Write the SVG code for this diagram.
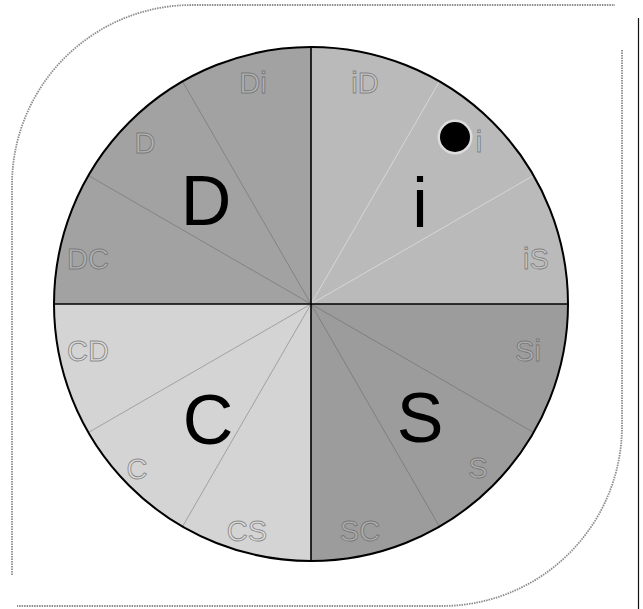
<svg xmlns="http://www.w3.org/2000/svg" width="643" height="609" viewBox="0 0 643 609">
  <style>
    .frame { fill: none; stroke: #8c8c8c; stroke-width: 1.8; stroke-dasharray: 1.5 1; }
    .big { font-family: "Liberation Sans", Arial, sans-serif; font-size: 70px; fill: #000; text-anchor: middle; }
    .lbl { font-family: "Liberation Sans", Arial, sans-serif; font-size: 29px; fill: #ffffff; fill-opacity: 0.2; stroke: #5e5e5e; stroke-width: 0.9; stroke-opacity: 0.65; text-anchor: middle; }
    .sub { stroke-width: 1; fill: none; }
    .dark { stroke: #555555; stroke-opacity: 0.4; }
    .light { stroke: #eeeeee; stroke-opacity: 0.55; }
  </style>
  <rect width="643" height="609" fill="#ffffff"/>
  <g id="frame">
    <path class="frame" d="M 12 575 V 185 A 180 180 0 0 1 192 5 H 615"/>
    <path class="frame" d="M 622 50 V 426 A 180 180 0 0 1 442 606 H 17"/>
    <line x1="638.5" y1="18" x2="638.5" y2="609" stroke="#111" stroke-width="1.2"/>
  </g>
  <g id="quadrant-D">
    <path d="M 311 304 L 54 304 A 257 257 0 0 1 311 47 Z" fill="#a2a2a2"/>
  </g>
  <g id="quadrant-i">
    <path d="M 311 304 L 311 47 A 257 257 0 0 1 568 304 Z" fill="#bababa"/>
  </g>
  <g id="quadrant-S">
    <path d="M 311 304 L 568 304 A 257 257 0 0 1 311 561 Z" fill="#9c9c9c"/>
  </g>
  <g id="quadrant-C">
    <path d="M 311 304 L 311 561 A 257 257 0 0 1 54 304 Z" fill="#d4d4d4"/>
  </g>
  <g id="connectors">
    <line class="sub dark" x1="311" y1="304" x2="182.5" y2="81.4"/>
    <line class="sub dark" x1="311" y1="304" x2="88.4" y2="175.5"/>
    <line class="sub light" x1="311" y1="304" x2="439.5" y2="81.4"/>
    <line class="sub light" x1="311" y1="304" x2="533.6" y2="175.5"/>
    <line class="sub dark" x1="311" y1="304" x2="533.6" y2="432.5"/>
    <line class="sub dark" x1="311" y1="304" x2="439.5" y2="526.6"/>
    <line class="sub dark" x1="311" y1="304" x2="88.4" y2="432.5" stroke-opacity="0.28"/>
    <line class="sub dark" x1="311" y1="304" x2="182.5" y2="526.6" stroke-opacity="0.28"/>
    <line x1="311" y1="47" x2="311" y2="561" stroke="#000" stroke-width="1.6"/>
    <line x1="54" y1="304" x2="568" y2="304" stroke="#000" stroke-width="1.6"/>
  </g>
  <g id="circle">
    <circle cx="311" cy="304" r="257" fill="none" stroke="#000" stroke-width="2"/>
  </g>
  <g id="labels">
    <text class="lbl" x="253" y="93">Di</text>
    <text class="lbl" x="145" y="153">D</text>
    <text class="lbl" x="88" y="269">DC</text>
    <text class="lbl" x="365" y="93">iD</text>
    <text class="lbl" x="479" y="152">i</text>
    <text class="lbl" x="536" y="269">iS</text>
    <text class="lbl" x="528" y="361">Si</text>
    <text class="lbl" x="478" y="478">S</text>
    <text class="lbl" x="360" y="541">SC</text>
    <text class="lbl" x="247" y="541">CS</text>
    <text class="lbl" x="137" y="479">C</text>
    <text class="lbl" x="88" y="361">CD</text>
  </g>
  <g id="marker-dot">
    <circle cx="455" cy="137" r="17.5" fill="#ffffff" fill-opacity="0.5"/>
    <circle cx="455" cy="137" r="15" fill="#000"/>
  </g>
  <g id="big-letters">
    <text class="big" x="206" y="225">D</text>
    <text class="big" x="420" y="227">i</text>
    <text class="big" x="208" y="444">C</text>
    <text class="big" x="420" y="442">S</text>
  </g>
</svg>
